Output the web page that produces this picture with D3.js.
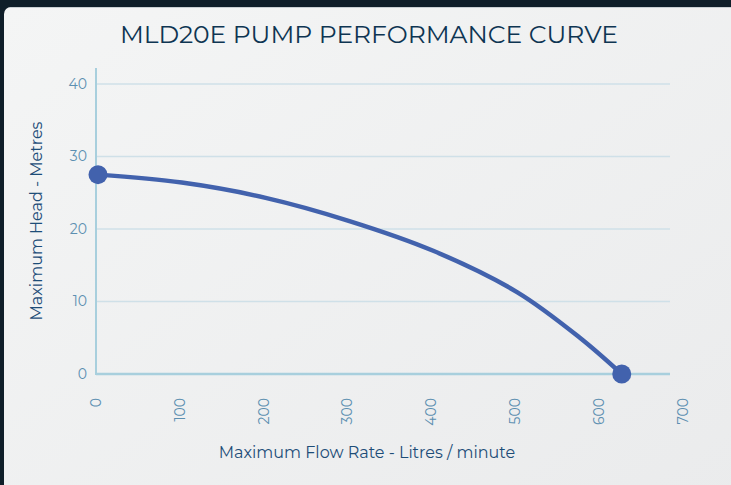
<!DOCTYPE html>
<html><head><meta charset="utf-8">
<script src="https://cdn.jsdelivr.net/npm/d3@7"></script>
<style>html,body{margin:0;padding:0;background:#0f1e29;overflow:hidden}</style>
</head><body>
<script>
const title = "MLD20E PUMP PERFORMANCE CURVE";
const xTitle = "Maximum Flow Rate - Litres / minute";
const yTitle = "Maximum Head - Metres";
const flow = [0, 100, 200, 300, 400, 500, 575, 625];
const head = [27.5, 26.4, 24.3, 21.1, 17.0, 11.3, 5.0, 0];
const xTicks = [0, 100, 200, 300, 400, 500, 600, 700];
const yTicks = [0, 10, 20, 30, 40];
const markedPoints = [0, 7];

const W = 731, H = 485;
const svg = d3.select("body").append("svg").attr("width", W).attr("height", H);
const defs = svg.append("defs");
const g = defs.append("linearGradient").attr("id","bg").attr("x1","0").attr("y1","0").attr("x2","1").attr("y2","1");
g.append("stop").attr("offset","0").attr("stop-color","#f4f5f5");
g.append("stop").attr("offset","1").attr("stop-color","#eaebec");

svg.append("rect").attr("width",W).attr("height",H).attr("fill","#0f1e29");
svg.append("rect").attr("x",4).attr("y",7).attr("width",W+20).attr("height",H+20).attr("rx",7).attr("fill","url(#bg)");
svg.append("line").attr("x1",10).attr("x2",W).attr("y1",7.5).attr("y2",7.5).attr("stroke","#c9cfd3").attr("stroke-width",1);

const x = d3.scaleLinear().domain([0,700]).range([98, 684.6]);
const y = d3.scaleLinear().domain([0,40]).range([374, 84]);
const gridEnd = 670, axisLeft = 96;

svg.append("g").selectAll("line").data(yTicks.filter(d=>d>0)).join("line")
  .attr("x1",axisLeft).attr("x2",gridEnd).attr("y1",d=>y(d)).attr("y2",d=>y(d))
  .attr("stroke","#cfe0e8").attr("stroke-width",1.5);

svg.append("line").attr("x1",axisLeft).attr("x2",axisLeft).attr("y1",68).attr("y2",y(0)+1)
  .attr("stroke","#a8cfdd").attr("stroke-width",2);
svg.append("line").attr("x1",axisLeft).attr("x2",gridEnd).attr("y1",y(0)).attr("y2",y(0))
  .attr("stroke","#a8cfdd").attr("stroke-width",2.5);

const font = "Montserrat, 'Noto Sans', 'Open Sans', sans-serif";
svg.append("g").selectAll("text").data(yTicks).join("text")
  .attr("x",87).attr("y",d=>y(d)).attr("dy","0.35em").attr("text-anchor","end")
  .attr("font-family",font).attr("font-size",14).attr("fill","#5c8fb1").text(d=>d);
svg.append("g").selectAll("text").data(xTicks).join("text")
  .attr("transform",d=>`translate(${x(d)-2},398) rotate(-90)`)
  .attr("dy","0.35em").attr("text-anchor","end")
  .attr("font-family",font).attr("font-size",14).attr("fill","#5c8fb1").text(d=>d);

svg.append("text").attr("x",369).attr("y",43).attr("text-anchor","middle")
  .attr("font-family",font).attr("font-size",25).attr("fill","#0e3552").attr("textLength",498).text(title);
svg.append("text").attr("x",367).attr("y",458).attr("text-anchor","middle")
  .attr("font-family",font).attr("font-size",16).attr("fill","#1d4d78").text(xTitle);
svg.append("text").attr("transform","translate(42,221) rotate(-90)").attr("text-anchor","middle")
  .attr("font-family",font).attr("font-size",16).attr("fill","#1d4d78").text(yTitle);

const data = flow.map((f,i)=>({f, h:head[i]}));
const line = d3.line().x(d=>x(d.f)).y(d=>y(d.h)).curve(d3.curveCatmullRom.alpha(0.5));
svg.append("path").datum(data).attr("d",line).attr("fill","none")
  .attr("stroke","#4262ad").attr("stroke-width",4.5).attr("stroke-linecap","round");
svg.append("g").selectAll("circle").data(markedPoints.map(i=>data[i])).join("circle")
  .attr("cx",d=>x(d.f)).attr("cy",d=>y(d.h)).attr("r",9.5).attr("fill","#4262ad");
</script>
</body></html>
